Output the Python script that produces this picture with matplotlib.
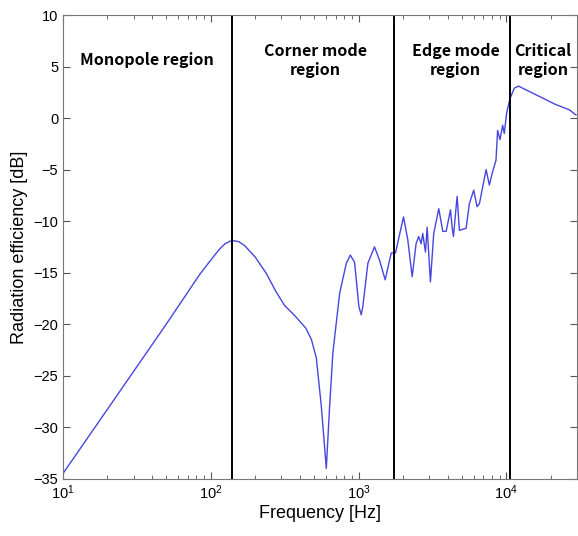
import matplotlib
matplotlib.use("Agg")
from matplotlib import pyplot as plt
from matplotlib.ticker import LogLocator, NullFormatter

# radiation efficiency curve
freq = [10, 23, 50, 84, 95, 105, 115, 125, 135, 142, 155, 170, 200, 238, 275,
        316, 360, 399, 440, 480, 518, 560, 605,
        637, 670, 745, 826, 879, 940, 1005, 1043, 1069, 1156, 1282, 1387, 1514,
        1663, 1778, 2014, 2153, 2306, 2450, 2553, 2652, 2718, 2836, 2911, 3064,
        3226, 3490, 3715, 3917, 4188, 4297, 4385, 4645, 4812, 5344, 5623, 6012,
        6339, 6577, 7295, 7674, 8076, 8511, 8730, 9057, 9441, 9683, 10050,
        10590, 11320, 12110, 12880, 16710, 21670, 26670, 29580]
eff_db = [-34.5, -27.0, -20.0, -15.2, -14.2, -13.4, -12.7, -12.2, -11.95, -11.9,
          -12.0, -12.4, -13.5, -15.1, -16.8, -18.2, -19.0, -19.7, -20.4, -21.5,
          -23.3, -28.0, -34.0, -28.0, -22.8, -17.0, -14.1, -13.3,
          -14.0, -18.3, -19.1, -18.3, -14.1, -12.5, -13.8, -15.7, -13.1, -13.1,
          -9.6, -11.8, -15.4, -12.2, -11.5, -12.2, -11.2, -13.0, -10.6, -15.9,
          -11.2, -8.8, -11.0, -11.0, -8.9, -10.6, -11.5, -7.6, -10.9, -10.7,
          -8.3, -7.0, -8.6, -8.3, -5.0, -6.5, -5.2, -4.1, -1.2, -2.1, -0.7,
          -1.5, 0.5, 1.9, 2.9, 3.1, 2.9, 2.1, 1.3, 0.8, 0.3]

# region borders and names
borders = [140, 1750, 10600]
region_names = ["Monopole region", "Corner mode\nregion", "Edge mode\nregion", "Critical\nregion"]
region_x = [37, 510, 4550, 17700]

plt.rcParams['font.family'] = ['Liberation Sans', 'DejaVu Sans']

fig = plt.figure(figsize=(5.78, 5.36), dpi=100)
ax = fig.add_axes([0.109, 0.107, 0.889, 0.865])

ax.semilogx(freq, eff_db, color="#4646e0", lw=1.0)
for b in borders:
    ax.axvline(b, color="black", lw=1.4)

for name, xpos in zip(region_names, region_x):
    ax.text(xpos, 5.6, name, ha="center", va="center",
            fontsize=11.5, fontweight="bold", linespacing=1.2,
            family=['Noto Sans CJK KR', 'DejaVu Sans'])

ax.set_xlim(10, 3e4)
ax.set_ylim(-35, 10)
ax.set_yticks(range(-35, 11, 5))
ax.xaxis.set_major_locator(LogLocator(base=10, numticks=10))
ax.xaxis.set_minor_locator(LogLocator(base=10, subs=range(2, 10), numticks=20))
ax.xaxis.set_minor_formatter(NullFormatter())
ax.tick_params(which="both", direction="in", top=True, right=True,
               labelsize=10.5, color="#555555")
ax.tick_params(which="major", length=5)
ax.tick_params(which="minor", length=3)
for s in ax.spines.values():
    s.set_color("#777777")

ax.set_xlabel("Frequency [Hz]", fontsize=13, labelpad=2)
ax.set_ylabel("Radiation efficiency [dB]", fontsize=13, labelpad=4)

plt.savefig("out.png", dpi=100)
